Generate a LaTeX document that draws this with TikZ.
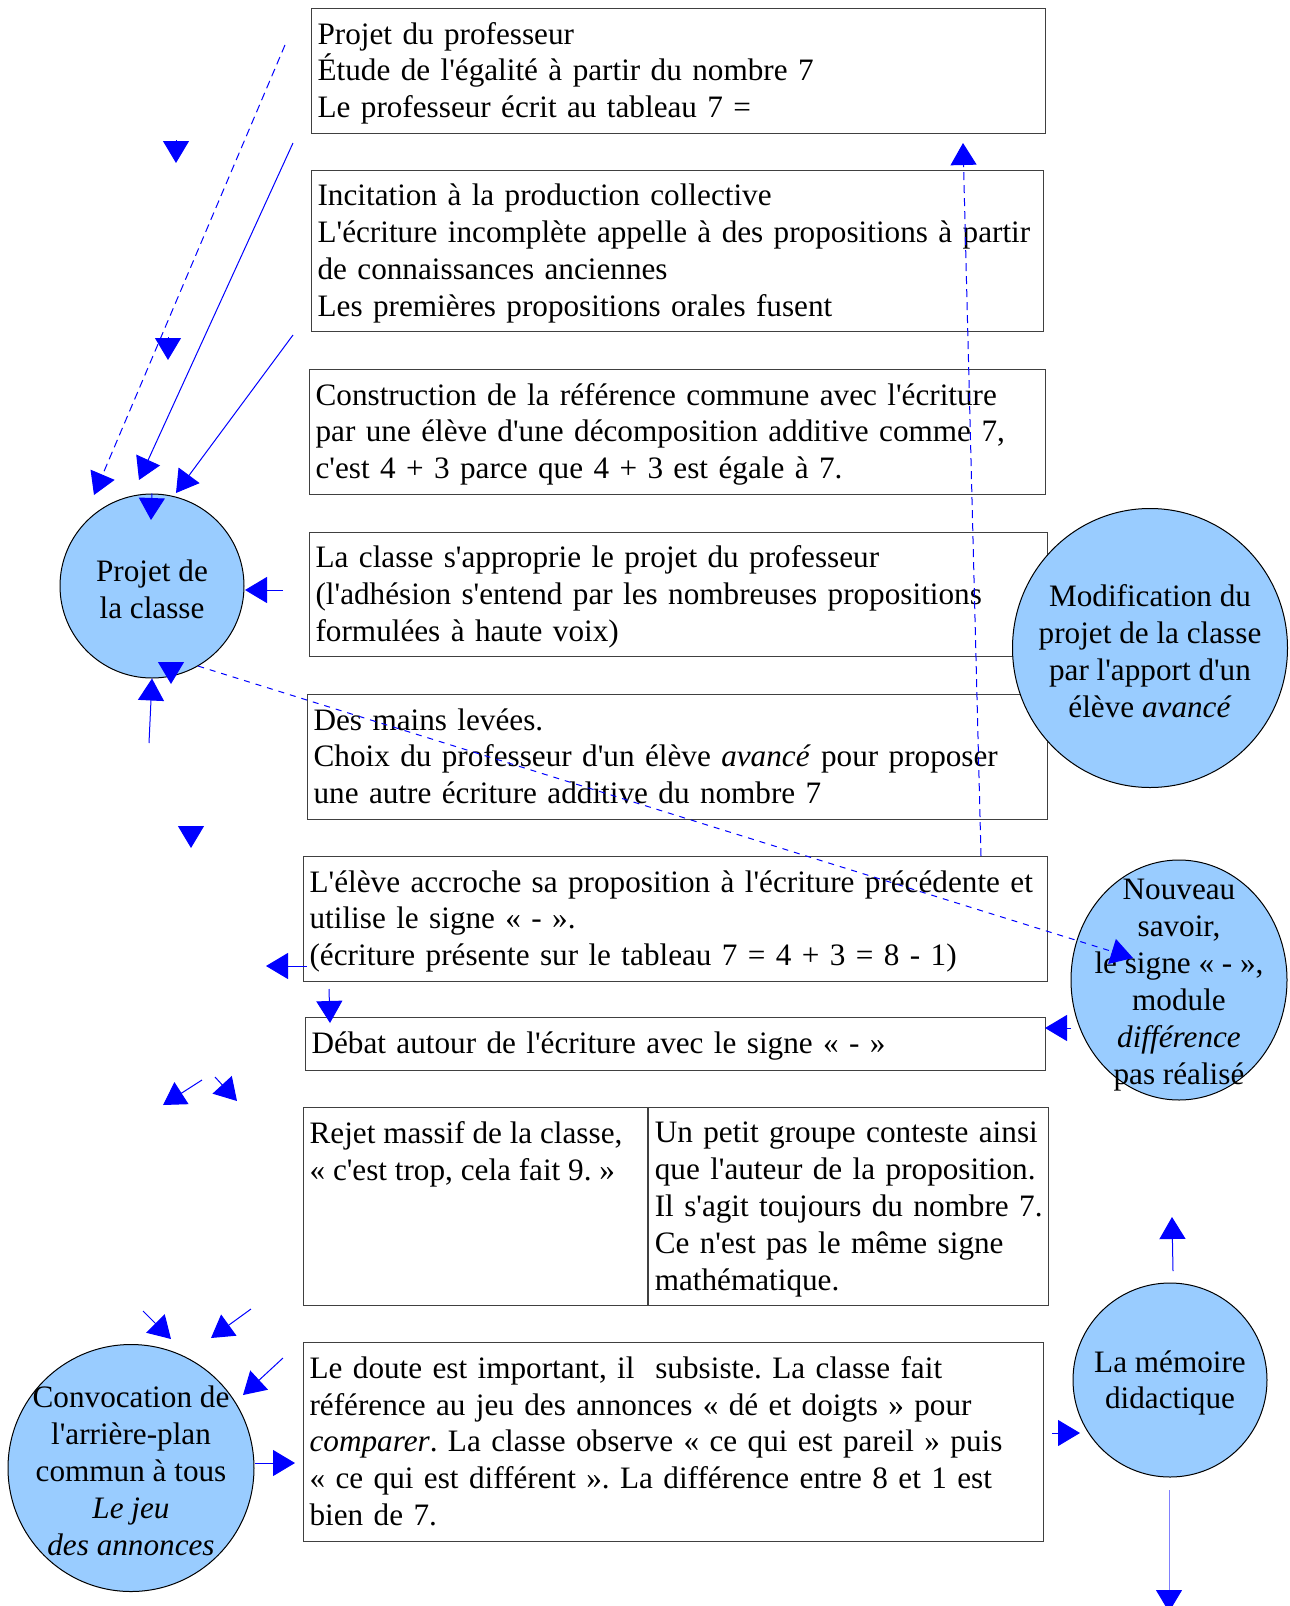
\documentclass[tikz,border=0pt]{standalone}
\usepackage{fontspec}
\setmainfont{Liberation Serif}[Ligatures=TeXOff]
\usetikzlibrary{arrows.meta,shapes.geometric}
\definecolor{bulleclair}{RGB}{153,204,255}
\frenchspacing
\newcommand\ligne{\rule[-4.1pt]{0pt}{18pt}}

\begin{document}
\begin{tikzpicture}[
  x=0.5pt, y=-0.5pt,
  every node/.style={font=\fontsize{15.6}{18.45}\selectfont},
  etape/.style={draw=black!75, line width=0.6pt, anchor=north west,
    align=left, inner xsep=3pt, inner ysep=0pt,
    execute at begin node=\ligne, execute at end node=\ligne},
  bulle/.style={draw=black, line width=0.5pt, fill=bulleclair, ellipse,
    inner sep=0pt},
  texte/.style={align=center, inner sep=0pt, yshift=-1.5pt},
  fleche/.style={blue, line width=0.5pt,
    -{Triangle[length=11pt, width=13pt, color=blue]}},
  pointille/.style={fleche, dash pattern=on 4pt off 2.5pt}
]
  \useasboundingbox (0,0) rectangle (1290,1606);

  \node[etape, text width=361pt, minimum height=62.5pt] (prof) at (311,8)
    {Projet du professeur\\Étude de l'égalité à partir du nombre 7\\Le professeur écrit au tableau 7 =};
  \node[etape, text width=360pt, minimum height=80.5pt] (incitation) at (311,170)
    {Incitation à la production collective\\L'écriture incomplète appelle à des propositions à partir\\de connaissances anciennes\\Les premières propositions orales fusent};
  \node[etape, text width=362pt, minimum height=62.5pt] (reference) at (309,369)
    {Construction de la référence commune avec l'écriture\\par une élève d'une décomposition additive comme 7,\\c'est 4 + 3 parce que 4 + 3 est égale à 7.};
  \node[etape, text width=363pt, minimum height=62pt] (adhesion) at (309,532)
    {La classe s'approprie le projet du professeur\\(l'adhésion s'entend par les nombreuses propositions\\formulées à haute voix)};
  \node[etape, text width=364pt, minimum height=62.5pt] (mains) at (307,694)
    {Des mains levées.\\Choix du professeur d'un élève \textit{avancé} pour proposer\\une autre écriture additive du nombre 7};
  \node[etape, text width=366pt, minimum height=62.5pt] (accroche) at (303,856)
    {L'élève accroche sa proposition à l'écriture précédente et\\utilise le signe « - ».\\(écriture présente sur le tableau 7 = 4 + 3 = 8 - 1)};
  \node[etape, text width=364pt, minimum height=26.5pt] (debat) at (305,1017)
    {Débat autour de l'écriture avec le signe « - »};
  \node[etape, text width=166pt, minimum height=99pt] (rejet) at (303,1107) {};
  \node[etape, draw=none, inner ysep=7pt] (rejettexte) at (rejet.north west)
    {Rejet massif de la classe,\\« c'est trop, cela fait 9. »};
  \node[etape, text width=194pt, minimum height=99pt] (groupe) at (rejet.north east)
    {Un petit groupe conteste ainsi\\que l'auteur de la proposition.\\Il s'agit toujours du nombre 7.\\Ce n'est pas le même signe\\mathématique.};
  \node[etape, text width=364pt, minimum height=99.5pt] (doute) at (303,1342)
    {Le doute est important, il \ subsiste. La classe fait\\référence au jeu des annonces « dé et doigts » pour\\\textit{comparer}. La classe observe « ce qui est pareil » puis\\« ce qui est différent ». La différence entre 8 et 1 est\\bien de 7.};

  \node[bulle, minimum width=92pt, minimum height=92pt] (projet) at (152,586) {};
  \node[texte] (projettexte) at (projet) {Projet de\\la classe};
  \node[bulle, minimum width=137.5pt, minimum height=139.5pt] (modif) at (1150,648) {};
  \node[texte] (modiftexte) at (modif)
    {Modification du\\projet de la classe\\par l'apport d'un\\élève \textit{avancé}};
  \node[bulle, minimum width=108pt, minimum height=120pt] (savoir) at (1179,980) {};
  \node[texte, yshift=-1pt] (savoirtexte) at (savoir)
    {Nouveau\\savoir,\\le signe « - »,\\module\\\textit{différence}\\pas réalisé};
  \node[bulle, minimum width=97pt, minimum height=97pt] (memoire) at (1170,1380) {};
  \node[texte] (memoiretexte) at (memoire) {La mémoire\\didactique};
  \node[bulle, minimum width=123pt, minimum height=123.5pt] (convoc) at (131,1468) {};
  \node[texte] (convoctexte) at (convoc)
    {Convocation de\\l'arrière-plan\\commun à tous\\\textit{Le jeu}\\\textit{des annonces}};

  % free ends of the connectors
  \coordinate (ta) at (285,45);   \coordinate (tb) at (94,495);
  \coordinate (sa) at (293,143);  \coordinate (sb) at (139,480);
  \coordinate (ua) at (293,335);  \coordinate (ub) at (176,493);
  \coordinate (va) at (176,140);  \coordinate (vb) at (176,163);
  \coordinate (wa) at (168,337);  \coordinate (wb) at (168,360);
  \coordinate (pt) at (151,520);
  \coordinate (pe) at (283,590);  \coordinate (pf) at (245,590);
  \coordinate (pa) at (171,662);  \coordinate (pb) at (171,684);
  \coordinate (pc) at (149,743);
  \coordinate (na) at (191,826);  \coordinate (nb) at (191,848);
  \coordinate (sv) at (1133,958);
  \coordinate (ea) at (307,966);  \coordinate (eb) at (266,966);
  \coordinate (da) at (329,989);  \coordinate (db) at (330,1023);
  \coordinate (ga) at (1071,1028); \coordinate (gb) at (1045,1028);
  \coordinate (ha) at (981,856);  \coordinate (hb) at (963,143);
  \coordinate (ra) at (202,1080); \coordinate (rb) at (163,1105);
  \coordinate (rc) at (215,1077); \coordinate (rd) at (237,1101);
  \coordinate (ca) at (143,1311); \coordinate (cb) at (171,1339);
  \coordinate (cc) at (251,1309); \coordinate (cd) at (211,1338);
  \coordinate (ce) at (283,1358); \coordinate (cf) at (243,1395);
  \coordinate (cg) at (255,1463); \coordinate (ch) at (295,1463);
  \coordinate (ma) at (1052,1433); \coordinate (mb) at (1080,1433);
  \coordinate (mc) at (1173,1271); \coordinate (md) at (1172,1217);
  \coordinate (me) at (1169,1490); \coordinate (mf) at (1169,1612);

  \draw[pointille] (ta) -- (tb);
  \draw[fleche] (sa) -- (sb);
  \draw[fleche] (ua) -- (ub);
  \draw[fleche] (va) -- (vb);
  \draw[fleche] (wa) -- (wb);
  \draw[fleche] (projet.north) -- (pt);
  \draw[fleche] (pe) -- (pf);
  \draw[fleche] (pa) -- (pb);
  \draw[fleche] (pc) -- (projet.south);
  \draw[fleche] (na) -- (nb);
  \draw[pointille, dash pattern=on 3pt off 3pt] (projet.-60) -- (sv);
  \draw[fleche] (ea) -- (eb);
  \draw[fleche] (da) -- (db);
  \draw[fleche] (ga) -- (gb);
  \draw[pointille] (ha) -- (hb);

  \draw[fleche] (ra) -- (rb);
  \draw[fleche] (rc) -- (rd);
  \draw[fleche] (ca) -- (cb);
  \draw[fleche] (cc) -- (cd);
  \draw[fleche] (ce) -- (cf);
  \draw[fleche] (cg) -- (ch);
  \draw[fleche] (ma) -- (mb);
  \draw[fleche] (mc) -- (md);
  \draw[fleche, draw=blue!50] (me) -- (mf);
\end{tikzpicture}
\end{document}
